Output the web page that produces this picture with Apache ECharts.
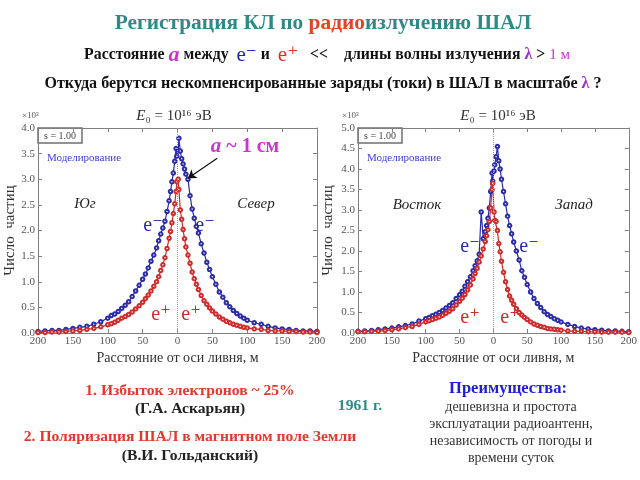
<!DOCTYPE html>
<html>
<head>
<meta charset="utf-8">
<script src="https://cdn.jsdelivr.net/npm/echarts@6/dist/echarts.min.js"></script>
<style>
  html, body { margin: 0; padding: 0; background: #fff; }
  #chart { width: 640px; height: 480px; }
</style>
</head>
<body>
<div id="chart"></div>
<script>
// расстояние от оси ливня, м (отрицательные - Юг / Восток)
const distM = [
  -200, -190, -180, -170, -160, -150, -140, -130, -120, -110,
  -100, -95, -90, -85, -80, -75, -70, -65, -60, -55, -50,
  -46, -42, -38, -34, -30, -27, -24, -21, -18, -15, -12,
  -10, -8, -6, -4, -2, -1,
  1, 2, 4, 6, 8, 10, 12, 15, 18, 21, 24, 27, 30,
  34, 38, 42, 46, 50, 55, 60, 65, 70, 75, 80, 85, 90, 95, 100,
  110, 120, 130, 140, 150, 160, 170, 180, 190, 200
];

// число частиц, x10^3 - левая панель (Юг / Север)
const ugSeverElectrons = [
  0.03, 0.04, 0.05, 0.05, 0.07, 0.09, 0.11, 0.13, 0.17, 0.22,
  0.29, 0.34, 0.37, 0.42, 0.48, 0.54, 0.61, 0.71, 0.82, 0.93, 1.05,
  1.15, 1.27, 1.40, 1.52, 1.66, 1.80, 1.93, 2.05, 2.18, 2.37, 2.58,
  2.76, 2.95, 3.12, 3.35, 3.60, 3.45,
  3.55, 3.80, 3.55, 3.40, 3.30, 3.20, 3.10, 3.00, 2.68, 2.42, 2.24, 2.08, 1.95,
  1.74, 1.56, 1.38, 1.24, 1.10, 0.95, 0.80, 0.70, 0.59, 0.51, 0.44, 0.38, 0.33, 0.29, 0.25,
  0.20, 0.17, 0.13, 0.10, 0.08, 0.07, 0.05, 0.04, 0.04, 0.03
];
const ugSeverPositrons = [
  0.01, 0.01, 0.02, 0.02, 0.03, 0.04, 0.05, 0.07, 0.09, 0.12,
  0.16, 0.18, 0.21, 0.25, 0.29, 0.32, 0.36, 0.41, 0.47, 0.53, 0.60,
  0.67, 0.74, 0.82, 0.91, 1.00, 1.10, 1.22, 1.33, 1.47, 1.65, 1.85,
  1.98, 2.15, 2.33, 2.52, 2.76, 2.95,
  3.00, 2.80, 2.40, 2.22, 2.02, 1.84, 1.68, 1.52, 1.36, 1.19, 1.06, 0.95, 0.85,
  0.73, 0.63, 0.56, 0.49, 0.43, 0.37, 0.31, 0.27, 0.23, 0.20, 0.17, 0.15, 0.13, 0.11, 0.10,
  0.08, 0.07, 0.05, 0.04, 0.04, 0.03, 0.03, 0.02, 0.02, 0.01
];

// правая панель (Восток / Запад)
const vostokZapadElectrons = [
  0.04, 0.05, 0.06, 0.08, 0.10, 0.12, 0.15, 0.18, 0.22, 0.29,
  0.35, 0.38, 0.42, 0.46, 0.50, 0.55, 0.61, 0.67, 0.74, 0.84, 0.93,
  1.02, 1.14, 1.25, 1.37, 1.52, 1.64, 1.76, 1.92, 2.95, 2.30, 2.47,
  2.62, 2.80, 3.05, 3.45, 3.90, 3.70,
  3.95, 4.10, 4.30, 4.55, 4.20, 4.00, 3.75, 3.45, 3.15, 2.85, 2.62, 2.42, 2.22,
  2.00, 1.78, 1.52, 1.36, 1.18, 1.00, 0.84, 0.72, 0.62, 0.52, 0.45, 0.40, 0.35, 0.31, 0.27,
  0.21, 0.16, 0.12, 0.10, 0.08, 0.07, 0.05, 0.05, 0.04, 0.03
];
const vostokZapadPositrons = [
  0.03, 0.03, 0.04, 0.05, 0.06, 0.08, 0.10, 0.13, 0.16, 0.21,
  0.27, 0.30, 0.33, 0.36, 0.39, 0.43, 0.48, 0.53, 0.59, 0.68, 0.77,
  0.85, 0.94, 1.05, 1.17, 1.32, 1.45, 1.58, 1.73, 1.88, 2.05, 2.23,
  2.37, 2.52, 2.72, 3.05, 3.50, 3.65,
  2.95, 2.75, 2.72, 2.50, 2.18, 1.98, 1.75, 1.48, 1.25, 1.06, 0.90, 0.80, 0.70,
  0.59, 0.50, 0.44, 0.38, 0.33, 0.27, 0.22, 0.19, 0.16, 0.14, 0.11, 0.10, 0.09, 0.08, 0.07,
  0.05, 0.04, 0.04, 0.03, 0.03, 0.02, 0.02, 0.02, 0.02, 0.01
];

const yMaxLeft = 4.0;
const yMaxRight = 5.0;

const SERIF = '"Liberation Serif", "DejaVu Serif", serif';
const BLUE = '#2b2ba8';
const RED = '#d02a2a';
const TEAL = '#2f8a87';
const MAGENTA = '#cc33cc';
const FRAME = '#808080';

const chart = echarts.init(document.getElementById('chart'));

function xAxisFor(grid, pos) {
  return {
    type: 'value', gridIndex: grid, position: pos,
    min: -200, max: 200, interval: 50,
    axisLine: { show: true, onZero: false, lineStyle: { color: FRAME, width: 1 } },
    axisTick: { show: true, inside: true, length: 4, lineStyle: { color: FRAME } },
    axisLabel: {
      show: pos === 'bottom', color: '#555', fontFamily: SERIF, fontSize: 11, margin: 3,
      formatter: v => String(Math.abs(v))
    },
    splitLine: { show: false },
    name: pos === 'bottom' ? 'Расстояние от оси ливня, м' : '',
    nameLocation: 'middle', nameGap: 18,
    nameTextStyle: { color: '#333', fontFamily: SERIF, fontSize: 14 }
  };
}

function yAxisFor(grid, pos, yMax, gap) {
  return {
    type: 'value', gridIndex: grid, position: pos,
    min: 0, max: yMax, interval: 0.5,
    axisLine: { show: true, onZero: false, lineStyle: { color: FRAME, width: 1 } },
    axisTick: { show: true, inside: true, length: 4, lineStyle: { color: FRAME } },
    axisLabel: {
      show: pos === 'left', color: '#555', fontFamily: SERIF, fontSize: 11, margin: 3,
      formatter: v => v.toFixed(1)
    },
    splitLine: { show: false },
    name: pos === 'left' ? 'Число  частиц' : '',
    nameLocation: 'middle', nameGap: gap, nameRotate: 90,
    nameTextStyle: { color: '#333', fontFamily: SERIF, fontSize: 15 }
  };
}

function lineSeries(xi, yi, vals, color, extra) {
  return Object.assign({
    type: 'line', xAxisIndex: xi, yAxisIndex: yi,
    data: distM.map((d, i) => [d, vals[i]]),
    symbol: 'emptyCircle', symbolSize: 3.5,
    lineStyle: { color: color, width: 1.2 },
    itemStyle: { color: color, borderWidth: 1 },
    animation: false, silent: true
  }, extra || {});
}

const zeroLine = {
  silent: true, symbol: 'none', label: { show: false },
  lineStyle: { color: '#999', type: 'dotted', width: 1 },
  data: [{ xAxis: 0 }]
};

function txt(x, y, text, font, fill, align) {
  return {
    type: 'text', x: x, y: y, silent: true,
    style: { text: text, font: font, fill: fill, textAlign: align || 'left', textVerticalAlign: 'middle' }
  };
}

function richTxt(x, y, text, rich) {
  return {
    type: 'text', x: x, y: y, silent: true,
    style: { text: text, rich: rich, textAlign: 'center', textVerticalAlign: 'middle' }
  };
}

function sBox(x) {
  return [
    { type: 'rect', silent: true, shape: { x: x, y: 128, width: 44, height: 15 },
      style: { fill: '#fff', stroke: '#707070', lineWidth: 1.5 } },
    txt(x + 22, 136, 's = 1.00', '10px ' + SERIF, '#444', 'center')
  ];
}

const bold = (s) => 'bold ' + s + 'px ' + SERIF;

const energyRich = {
  e: { font: 'italic 15px ' + SERIF, fill: '#333' },
  t: { font: '15px ' + SERIF, fill: '#333' }
};

const graphics = [
  richTxt(323, 23, '{c|Регистрация КЛ по }{r|радио}{c|излучению ШАЛ}',
    { c: { font: bold(21.4), fill: TEAL }, r: { font: bold(21.4), fill: '#e8402a' } }),
  richTxt(327, 55,
    '{t|Расстояние }{a|a}{t| между  }{em|e⁻}{t| и  }{ep|e⁺}{t|   <<    длины волны излучения }{l|λ}{t| > }{m|1 м}',
    {
      t: { font: bold(15.8), fill: '#111' },
      a: { font: 'italic bold 22px ' + SERIF, fill: MAGENTA },
      em: { font: '21px ' + SERIF, fill: '#2020c0' },
      ep: { font: '21px ' + SERIF, fill: '#e03020' },
      l: { font: bold(16), fill: '#9933cc' },
      m: { font: '15px ' + SERIF, fill: MAGENTA }
    }),
  richTxt(323, 84,
    '{t|Откуда берутся нескомпенсированные заряды (токи) в ШАЛ в масштабе }{l|λ}{t| ?}',
    { t: { font: bold(16.1), fill: '#111' }, l: { font: bold(16.1), fill: '#9933cc' } }),

  // подписи панелей
  richTxt(174, 116, '{e|E}{t|₀ = 10¹⁶ эВ}', energyRich),
  richTxt(498, 116, '{e|E}{t|₀ = 10¹⁶ эВ}', energyRich),
  txt(22, 116, '×10³', '9px ' + SERIF, '#555', 'left'),
  txt(342, 116, '×10³', '9px ' + SERIF, '#555', 'left'),
  ...sBox(38), ...sBox(358),
  txt(47, 158, 'Моделирование', '11px ' + SERIF, '#4040d0', 'left'),
  txt(367, 158, 'Моделирование', '11px ' + SERIF, '#4040d0', 'left'),
  txt(85, 204, 'Юг', 'italic 15px ' + SERIF, '#222', 'center'),
  txt(256, 204, 'Север', 'italic 15px ' + SERIF, '#222', 'center'),
  txt(417, 205, 'Восток', 'italic 15px ' + SERIF, '#222', 'center'),
  txt(574, 205, 'Запад', 'italic 15px ' + SERIF, '#222', 'center'),

  txt(153, 226, 'e⁻', '20px ' + SERIF, BLUE, 'center'),
  txt(205, 226, 'e⁻', '20px ' + SERIF, BLUE, 'center'),
  txt(161, 315, 'e⁺', '20px ' + SERIF, RED, 'center'),
  txt(191, 315, 'e⁺', '20px ' + SERIF, RED, 'center'),
  txt(470, 247, 'e⁻', '20px ' + SERIF, BLUE, 'center'),
  txt(529, 247, 'e⁻', '20px ' + SERIF, BLUE, 'center'),
  txt(470, 318, 'e⁺', '20px ' + SERIF, RED, 'center'),
  txt(510, 318, 'e⁺', '20px ' + SERIF, RED, 'center'),

  richTxt(245, 147, '{a|a}{t| ~ 1 см}',
    { a: { font: 'italic bold 21px ' + SERIF, fill: MAGENTA }, t: { font: bold(20), fill: MAGENTA } }),

  // нижний текст
  txt(190, 391, '1. Избыток электронов ~ 25%', bold(15.6), '#e03a2a', 'center'),
  txt(190, 409, '(Г.А. Аскарьян)', bold(15.6), '#222', 'center'),
  txt(360, 406, '1961 г.', bold(15.6), TEAL, 'center'),
  txt(190, 437, '2. Поляризация ШАЛ в магнитном поле Земли', bold(15.6), '#e03a2a', 'center'),
  txt(190, 456, '(В.И. Гольданский)', bold(15.6), '#222', 'center'),
  txt(508, 389, 'Преимущества:', bold(16.5), '#2020d0', 'center'),
  txt(511, 407, 'дешевизна и простота', '14px ' + SERIF, '#333', 'center'),
  txt(511, 424, 'эксплуатации радиоантенн,', '14px ' + SERIF, '#333', 'center'),
  txt(511, 441, 'независимость от погоды и', '14px ' + SERIF, '#333', 'center'),
  txt(511, 458, 'времени суток', '14px ' + SERIF, '#333', 'center')
];

chart.setOption({
  backgroundColor: '#ffffff',
  animation: false,
  grid: [
    { left: 38, top: 128, width: 279, height: 205 },
    { left: 358, top: 128, width: 274, height: 205 }
  ],
  xAxis: [xAxisFor(0, 'bottom'), xAxisFor(0, 'top'), xAxisFor(1, 'bottom'), xAxisFor(1, 'top')],
  yAxis: [
    yAxisFor(0, 'left', yMaxLeft, 20), yAxisFor(0, 'right', yMaxLeft, 20),
    yAxisFor(1, 'left', yMaxRight, 22), yAxisFor(1, 'right', yMaxRight, 22)
  ],
  series: [
    lineSeries(0, 0, ugSeverElectrons, BLUE, { markLine: zeroLine }),
    lineSeries(0, 0, ugSeverPositrons, RED, {
      markLine: {
        silent: true, symbol: ['none', 'arrow'], symbolSize: 8, label: { show: false },
        lineStyle: { color: '#111', type: 'solid', width: 1.2 },
        data: [[{ coord: [57, 3.41] }, { coord: [15, 3.02] }]]
      }
    }),
    lineSeries(2, 2, vostokZapadElectrons, BLUE, { markLine: zeroLine }),
    lineSeries(2, 2, vostokZapadPositrons, RED)
  ],
  graphic: graphics
});

window.addEventListener('resize', function () {
  chart.resize();
});
</script>
</body>
</html>
